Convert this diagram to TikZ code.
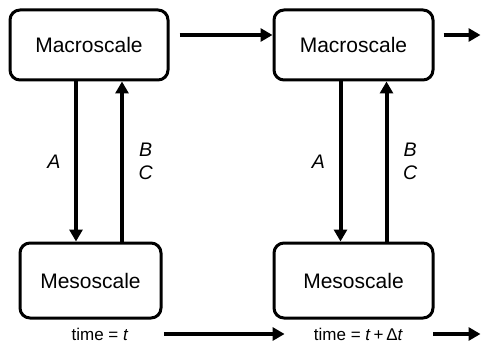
\documentclass[tikz,border=0pt]{standalone}
\usepackage{fontspec}
\setmainfont{Liberation Sans}
\usetikzlibrary{positioning, arrows.meta, calc}

\tikzset{
  scalebox/.style={draw, line width=1.5pt, rounded corners=5pt, inner sep=0pt,
    minimum height=35pt, font=\fontsize{10.5}{12}\selectfont},
  flow/.style={line width=2pt, -{Triangle[length=6pt,width=6.5pt]}},
  link/.style={font=\fontsize{9.8}{11.5}\selectfont\itshape, align=center},
  stamp/.style={inner sep=0pt, font=\fontsize{8.5}{10}\selectfont},
}

\begin{document}
\begin{tikzpicture}[x=0.5pt, y=-0.5pt]
    \useasboundingbox (0,0) rectangle (481,342);

    % two time steps, macro on top, meso below
    \node[scalebox, minimum width=79pt] (macroA) at (89,45) {Macroscale};
    \node[scalebox, minimum width=79.5pt] (macroB) at (353.5,45) {Macroscale};
    \node[scalebox, minimum width=70.5pt, minimum height=37.5pt] (mesoA) at (90.5,280.5) {Mesoscale};
    \node[scalebox, minimum width=79.5pt, minimum height=37.5pt] (mesoB) at (353.5,280.5) {Mesoscale};

    \node[stamp] (timeA) at (100,334) {time\;=\;\textit{t}};
    \node[stamp] (timeB) at (358.5,334) {time\;=\;\textit{t}\,+\,Δ\textit{t}};

    \coordinate (nextMacro) at (480.5,35);
    \coordinate (nextTime) at (480.5,334);

    % coupling between the scales
    \foreach \col in {A,B} {
      \coordinate (down\col) at ([xshift=-6.5pt]macro\col.south);
      \coordinate (up\col) at ([xshift=16.5pt]macro\col.south);
      \draw[flow] (down\col) -- (down\col |- meso\col.north)
        node[midway, left=3.5pt, link] (lblA\col) {A};
      \draw[flow] (up\col |- meso\col.north) -- (up\col)
        node[midway, right=4pt, link] (lblBC\col) {B\\C};
    }

    % stepping forward in time
    \draw[flow] ([shift={(5pt,5pt)}]macroA.east) -- ([yshift=5pt]macroB.west);
    \draw[flow] ([shift={(4.5pt,5pt)}]macroB.east) -- (nextMacro);
    \draw[flow] ([xshift=17.5pt]timeA.east) -- ([xshift=-14.5pt]timeB.west);
    \draw[flow] ([xshift=15pt]timeB.east) -- (nextTime);
  \end{tikzpicture}
\end{document}
